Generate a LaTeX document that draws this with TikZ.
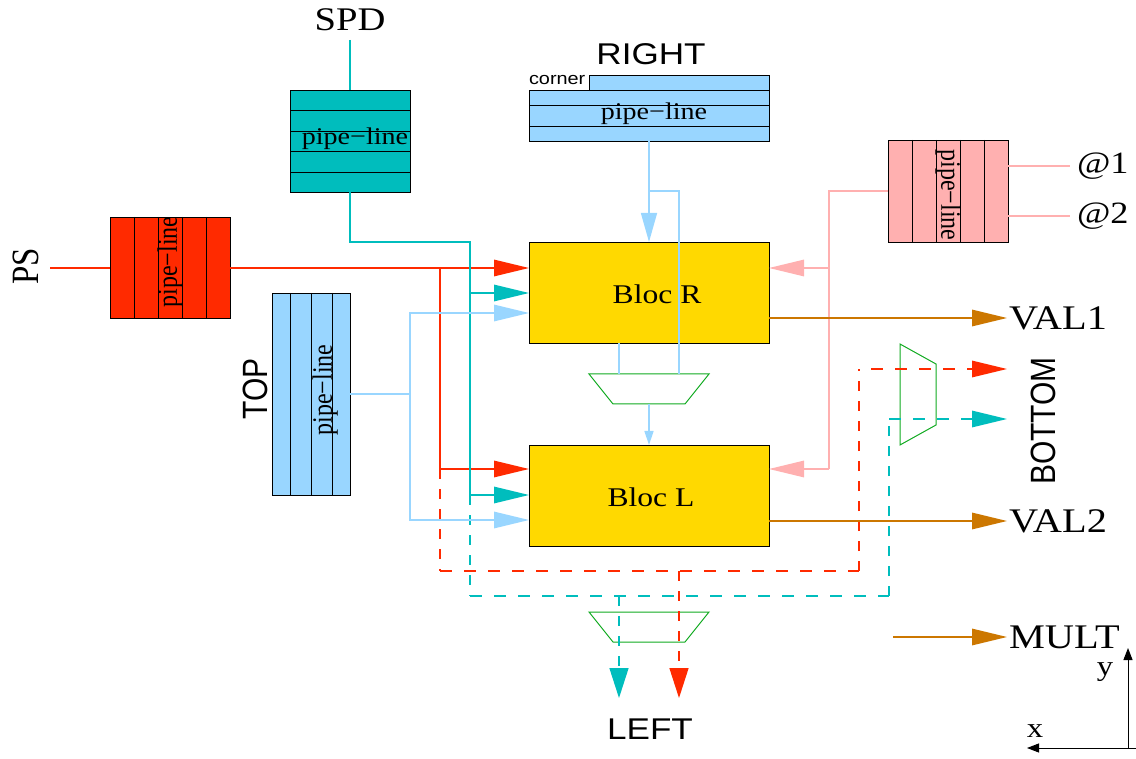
\documentclass[tikz,border=0pt]{standalone}
\usepackage{fontspec}
\setmainfont{Liberation Serif}
\newfontfamily\serifw[FakeStretch=1.17]{Liberation Serif}
\newfontfamily\sansw[FakeStretch=1.17]{Liberation Sans}
\newfontfamily\sansn{Liberation Sans}
\usetikzlibrary{arrows.meta}
\definecolor{cred}{HTML}{FF2A00}
\definecolor{cteal}{HTML}{00BDBD}
\definecolor{cblue}{HTML}{99D6FF}
\definecolor{cpink}{HTML}{FFB0B0}
\definecolor{cyel}{HTML}{FFD900}
\definecolor{cbrown}{HTML}{CC7700}
\definecolor{cgreen}{HTML}{10AA20}
\newcommand{\fs}[1]{\fontsize{#1}{#1}\selectfont}
\tikzset{
  box/.style={draw=black,line width=0.9pt,inner sep=0pt,outer sep=0pt,anchor=north west},
  bloc/.style={box,fill=cyel,minimum width=240pt,minimum height=101pt},
  divider/.style={draw=black,line width=0.9pt},
  conn/.style={line width=1.5pt},
  tipH/.style={-{Triangle[length=35pt,width=16.5pt]}},
  tipV/.style={-{Triangle[length=30pt,width=19pt]}},
  dashH/.style={conn,dash pattern=on 12pt off 12pt},
  dashV/.style={conn,dash pattern=on 10pt off 10pt},
  muxline/.style={draw=cgreen,line width=1pt},
  lab/.style={inner sep=0pt,outer sep=0pt,text=black},
  pipeh/.style={lab,font=\serifw\fs{24}},
  pipev/.style={lab,font=\fs{24}},
  bigserif/.style={lab,font=\serifw\fs{34.5}},
  bigsans/.style={lab,font=\sansw\fs{30}},
  vsans/.style={lab,font=\sansn\fs{30},rotate=90,yscale=1.17},
}
\begin{document}
\begin{tikzpicture}[x=1pt,y=-1pt]
\useasboundingbox (0,0) rectangle (1136,759);

% ---- registers and blocs
\node[box,fill=cteal,minimum width=120pt,minimum height=102pt] (spdbox) at (290,90) {};
\foreach \y in {110,131,151,172} \draw[divider] (spdbox.west |- 0,\y) -- (spdbox.east |- 0,\y);
\node[box,fill=cred,minimum width=120pt,minimum height=101pt] (psbox) at (110,217) {};
\foreach \x in {134,158,182,206} \draw[divider] (\x,0 |- psbox.north) -- (\x,0 |- psbox.south);
\node[box,fill=cblue,minimum width=78pt,minimum height=202pt] (topbox) at (272,293) {};
\foreach \x in {290,311,332} \draw[divider] (\x,0 |- topbox.north) -- (\x,0 |- topbox.south);
\node[box,fill=cblue,minimum width=240pt,minimum height=51pt] (rightbox) at (529,90) {};
\foreach \y in {105,126} \draw[divider] (rightbox.west |- 0,\y) -- (rightbox.east |- 0,\y);
\node[box,fill=cblue,minimum width=180pt,minimum height=15pt] (cornerbox) at (589,75) {};
\node[box,fill=cpink,minimum width=120pt,minimum height=102pt] (pinkbox) at (888,140) {};
\foreach \x in {912,936,960,984} \draw[divider] (\x,0 |- pinkbox.north) -- (\x,0 |- pinkbox.south);
\node[bloc] (blocR) at (529,242) {};
\node[bloc] (blocL) at (529,445) {};

% ---- multiplexers
\draw[muxline] (589,374) -- (709,374) -- (685,404) -- (613,404) -- cycle;
\draw[muxline] (589,612) -- (709,612) -- (685,642) -- (613,642) -- cycle;
\draw[muxline] (900,344) -- (936,364) -- (936,425) -- (900,445) -- cycle;

% ---- labels
\node[lab,font=\serifw\fs{33}] (spdl) at (350,20) {SPD};
\node[lab,font=\fs{33},rotate=90,yscale=1.17] (psl) at (26,266) {PS};
\node[vsans] (topl) at (255,389) {TOP};
\node[bigsans] (rightl) at (651,54) {RIGHT};
\node[lab,font=\sansw\fs{17},anchor=west] (cornerl) at (529,80) {corner};
\node[pipeh] (p1) at (355,139) {pipe−line};
\node[pipeh] (p2) at (654,114) {pipe−line};
\node[pipev,rotate=90,yscale=1.17] (p3) at (170,262) {pipe−line};
\node[pipev,rotate=90,yscale=1.17] (p4) at (325,390) {pipe−line};
\node[pipev,rotate=-90,yscale=1.17] (p5) at (948,195) {pipe−line};
\node[lab,font=\serifw\fs{27}] (lr) at (657,294) {Bloc R};
\node[lab,font=\serifw\fs{27}] (ll) at (651,497) {Bloc L};
\node[lab,font=\serifw\fs{31},anchor=west] (a1) at (1077,166) {@1};
\node[lab,font=\serifw\fs{31},anchor=west] (a2) at (1077,216) {@2};
\node[bigserif,anchor=west] (val1) at (1009,318) {VAL1};
\node[bigserif,anchor=west] (val2) at (1009,521) {VAL2};
\node[bigserif,anchor=west] (mult) at (1009,637) {MULT};
\node[vsans] (bottoml) at (1043,421) {BOTTOM};
\node[bigsans] (leftl) at (650,729) {LEFT};
\node[lab,font=\serifw\fs{28}] (ylab) at (1105,672) {y};
\node[lab,font=\serifw\fs{28}] (xlab) at (1035,731) {x};

% ---- named points
\coordinate (psin) at (50,268);
\coordinate (rjoin) at (440,268);
\coordinate (rjoinL) at (440,469);
\coordinate (rcorner) at (440,571);
\coordinate (rbranch) at (679,571);
\coordinate (rright) at (859,571);
\coordinate (rup) at (859,369);
\coordinate (rtip) at (1007,369);
\coordinate (rdown) at (679,698);
\coordinate (spdin) at (350,40);
\coordinate (tbend) at (350,242);
\coordinate (tjoin) at (470,242);
\coordinate (tjoinR) at (470,293);
\coordinate (tjoinL) at (470,495);
\coordinate (tcorner) at (470,596);
\coordinate (tbranch) at (619,596);
\coordinate (tright) at (889,596);
\coordinate (tup) at (889,419);
\coordinate (ttip) at (1007,419);
\coordinate (tdown) at (619,698);
\coordinate (bout) at (350,394);
\coordinate (bjoin) at (410,394);
\coordinate (bR) at (410,313);
\coordinate (bL) at (410,520);
\coordinate (pout) at (888,191);
\coordinate (pbend) at (829,191);
\coordinate (pjoinR) at (829,268);
\coordinate (pjoinL) at (829,469);
\coordinate (in1) at (1070,166);
\coordinate (in2) at (1070,216);
\coordinate (rbmid) at (649,141);
\coordinate (rbjog) at (649,191);
\coordinate (rbdrop) at (679,191);
\coordinate (rbmux) at (679,374);
\coordinate (blocdrop) at (619,343);
\coordinate (blocmux) at (619,374);
\coordinate (muxo) at (649,404);
\coordinate (multin) at (893,637);
\coordinate (multtip) at (1007,637);
\coordinate (vtip1) at (1007,318);
\coordinate (vtip2) at (1007,521);
\coordinate (origin) at (1128,748);
\coordinate (axright) at (1136,748);
\coordinate (ytip) at (1128,648);
\coordinate (xtip) at (1027,748);

% ---- red
\draw[conn,cred] (psin) -- (psbox.west |- psin);
\draw[conn,cred,tipH] (psbox.east |- psin) -- (blocR.west |- psin);
\draw[conn,cred,tipH] (rjoin) -- (rjoinL) -- (blocL.west |- rjoinL);
\draw[dashV,cred] (rjoinL) -- (rcorner);
\draw[dashH,cred] (rcorner) -- (rright);
\draw[dashV,cred] (rright) -- (rup);
\draw[dashH,dash phase=12pt,cred,tipH] (rup) -- (rtip);
\draw[dashV,cred,tipV] (rbranch) -- (rdown);

% ---- teal
\draw[conn,cteal] (spdin) -- (spdbox.north);
\draw[conn,cteal] (spdbox.south) -- (tbend) -- (tjoin) -- (tjoinL);
\draw[conn,cteal,tipH] (tjoinR) -- (blocR.west |- tjoinR);
\draw[conn,cteal,tipH] (tjoinL) -- (blocL.west |- tjoinL);
\draw[dashV,cteal] (tjoinL) -- (tcorner);
\draw[dashH,cteal] (tcorner) -- (tright);
\draw[dashV,cteal] (tright) -- (tup);
\draw[dashH,cteal,tipH] (tup) -- (ttip);
\draw[dashV,cteal,tipV] (tbranch) -- (tdown);

% ---- blue
\draw[conn,cblue] (bout) -- (bjoin);
\draw[conn,cblue,tipH] (bjoin) -- (bR) -- (blocR.west |- bR);
\draw[conn,cblue,tipH] (bjoin) -- (bL) -- (blocL.west |- bL);
\draw[conn,cblue,-{Triangle[length=29pt,width=16pt]}] (rbmid) -- (rbmid |- blocR.north);
\draw[line width=1.2pt,cblue] (rbjog) -- (rbdrop) -- (rbmux);
\draw[conn,cblue] (blocdrop) -- (blocmux);
\draw[conn,cblue,-{Triangle[length=14pt,width=9pt]}] (muxo) -- (muxo |- blocL.north);

% ---- pink
\draw[conn,cpink] (pinkbox.east |- in1) -- (in1);
\draw[conn,cpink] (pinkbox.east |- in2) -- (in2);
\draw[conn,cpink] (pout) -- (pbend) -- (pjoinL);
\draw[conn,cpink,tipH] (pjoinR) -- (blocR.east |- pjoinR);
\draw[conn,cpink,tipH] (pjoinL) -- (blocL.east |- pjoinL);

% ---- brown
\draw[conn,cbrown,tipH] (blocR.east |- vtip1) -- (vtip1);
\draw[conn,cbrown,tipH] (blocL.east |- vtip2) -- (vtip2);
\draw[conn,cbrown,tipH] (multin) -- (multtip);

% ---- axes
\draw[line width=1pt,-{Triangle[length=12pt,width=9pt]}] (origin) -- (ytip);
\draw[line width=1pt,-{Triangle[length=12pt,width=9pt]}] (axright) -- (xtip);
\end{tikzpicture}
\end{document}
